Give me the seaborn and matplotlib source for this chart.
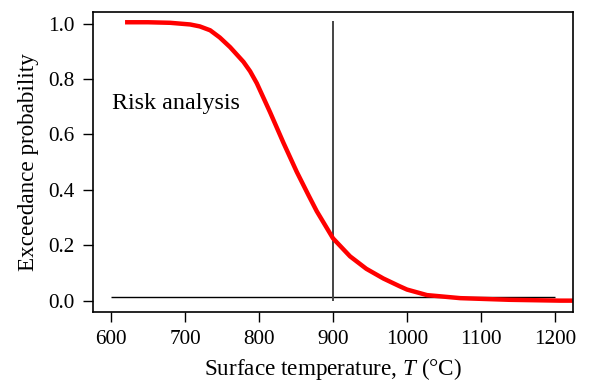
import matplotlib
matplotlib.use("Agg")
import matplotlib.pyplot as plt
import seaborn as sns
import pandas as pd

# Exceedance probability of surface temperature
temperature = [619, 650, 680, 707, 720, 734, 747, 761, 779, 788, 797, 815,
               833, 851, 867, 878, 900, 923, 945, 968, 990, 1000, 1027, 1072,
               1139, 1207, 1224]
exceedance = [1.005, 1.005, 1.003, 0.997, 0.990, 0.976, 0.950, 0.915, 0.862,
              0.828, 0.785, 0.68, 0.57, 0.465, 0.38, 0.323, 0.225, 0.160,
              0.115, 0.080, 0.052, 0.040, 0.020, 0.009, 0.003, 0.0, 0.0]

# Reference lines: critical temperature and baseline probability
critical_T = 900
critical_span = [0.0, 1.01]
baseline_P = 0.012
baseline_span = [600, 1200]

x_ticks = [600, 700, 800, 900, 1000, 1100, 1200]
y_ticks = [0.0, 0.2, 0.4, 0.6, 0.8, 1.0]

sns.set_theme(style="white")
plt.rcParams["font.family"] = ["Liberation Serif", "DejaVu Serif"]
plt.rcParams["mathtext.fontset"] = "custom"
plt.rcParams["mathtext.it"] = "Liberation Serif:italic"
plt.rcParams["mathtext.rm"] = "Liberation Serif"
plt.rcParams["text.color"] = "black"
plt.rcParams["axes.labelcolor"] = "black"

fig, ax = plt.subplots(figsize=(5.89, 3.84), dpi=100)
fig.subplots_adjust(left=93 / 589, right=573 / 589, top=1 - 12 / 384, bottom=1 - 312 / 384)

df = pd.DataFrame({"T": temperature, "P": exceedance})

ax.hlines(baseline_P, baseline_span[0], baseline_span[1], color="black", lw=1.0, zorder=1)
ax.vlines(critical_T, critical_span[0], critical_span[1], color="#444444", lw=1.4, zorder=1)
sns.lineplot(data=df, x="T", y="P", ax=ax, color="#ff0000", lw=3.2, sort=False,
             solid_capstyle="butt", solid_joinstyle="round", zorder=2)

ax.text(601, 0.71, "Risk analysis", fontsize=17.3, va="center", ha="left", color="black")

ax.set_xlim(575.7, 1224.3)
ax.set_ylim(-0.041, 1.042)
ax.set_xticks(x_ticks)
ax.set_yticks(y_ticks)
ax.set_xticklabels([str(v) for v in x_ticks])
ax.set_yticklabels([f"{v:.1f}" for v in y_ticks])
ax.tick_params(axis="both", direction="out", length=7, width=1.0, color="black",
               labelsize=15.3, pad=6, left=True, bottom=True, labelcolor="black")

ax.set_xlabel(r"Surface temperature, $\mathit{T}$ ($\degree$C)", fontsize=16.7, labelpad=5)
ax.set_ylabel("Exceedance probability", fontsize=16.7, labelpad=7)

for s in ax.spines.values():
    s.set_visible(True)
    s.set_color("black")
    s.set_linewidth(1.2)

fig.savefig("out.png", dpi=100, facecolor="white")
